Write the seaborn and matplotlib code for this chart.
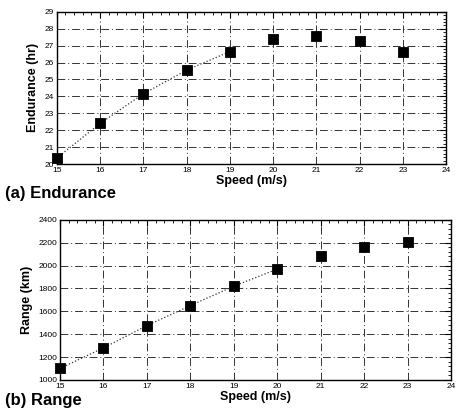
import numpy as np
import pandas as pd
import matplotlib.pyplot as plt
import seaborn as sns
from matplotlib.ticker import MultipleLocator

speed = [15, 16, 17, 18, 19, 20, 21, 22, 23]
endurance = [20.35, 22.4, 24.15, 25.55, 26.65, 27.38, 27.57, 27.26, 26.65]
range_km = [1100, 1280, 1475, 1650, 1820, 1970, 2080, 2160, 2205]

df = pd.DataFrame({'Speed': speed, 'Endurance': endurance, 'Range': range_km})

sns.set_style('white')
plt.rcParams['font.family'] = ['Liberation Sans', 'DejaVu Sans']
plt.rcParams['text.color'] = 'black'
plt.rcParams['axes.labelcolor'] = 'black'
plt.rcParams['xtick.color'] = 'black'
plt.rcParams['ytick.color'] = 'black'

fig = plt.figure(figsize=(4.58, 4.08), dpi=100)
ax1 = fig.add_axes([0.124, 0.598, 0.850, 0.373])
ax2 = fig.add_axes([0.131, 0.069, 0.854, 0.392])


def style_axes(ax, ylim, ymajor, yminor):
    ax.set_xlim(15, 24)
    ax.set_ylim(*ylim)
    ax.xaxis.set_major_locator(MultipleLocator(1))
    ax.xaxis.set_minor_locator(MultipleLocator(0.2))
    ax.yaxis.set_major_locator(MultipleLocator(ymajor))
    ax.yaxis.set_minor_locator(MultipleLocator(yminor))
    ax.grid(True, which='major', color='#333333', linestyle=(0, (8, 3, 1, 3)),
            linewidth=0.7)
    ax.tick_params(which='both', direction='in', top=True, right=True,
                   labelsize=6, pad=2, colors='black')
    ax.tick_params(which='major', length=4, width=0.8)
    ax.tick_params(which='minor', length=2, width=0.6)
    for s in ax.spines.values():
        s.set_color('black')
        s.set_linewidth(1.0)
    ax.set_xlabel('Speed (m/s)', fontsize=9, fontweight='bold', labelpad=1)


# (a) Endurance
sub_a = df[df['Speed'] <= 19]
sns.lineplot(data=sub_a, x='Speed', y='Endurance', ax=ax1, color='#333333',
             linestyle=':', linewidth=0.9)
sns.scatterplot(data=df, x='Speed', y='Endurance', ax=ax1, marker='s', s=55,
                color='black', edgecolor='black', zorder=5, clip_on=False)
style_axes(ax1, (20, 29), 1, 0.2)
ax1.set_ylabel('Endurance (hr)', fontsize=9, fontweight='bold', labelpad=4)
fig.text(0.01, 0.525, '(a) Endurance', fontsize=12, fontweight='bold',
         ha='left', va='center')

# (b) Range
sub_b = df[df['Speed'] <= 20]
sns.lineplot(data=sub_b, x='Speed', y='Range', ax=ax2, color='#333333',
             linestyle=':', linewidth=0.9)
sns.scatterplot(data=df, x='Speed', y='Range', ax=ax2, marker='s', s=55,
                color='black', edgecolor='black', zorder=5, clip_on=False)
style_axes(ax2, (1000, 2400), 200, 40)
ax2.set_ylabel('Range (km)', fontsize=9, fontweight='bold', labelpad=4)
fig.text(0.01, 0.018, '(b) Range', fontsize=12, fontweight='bold',
         ha='left', va='center')

fig.savefig('out.png', dpi=100)
